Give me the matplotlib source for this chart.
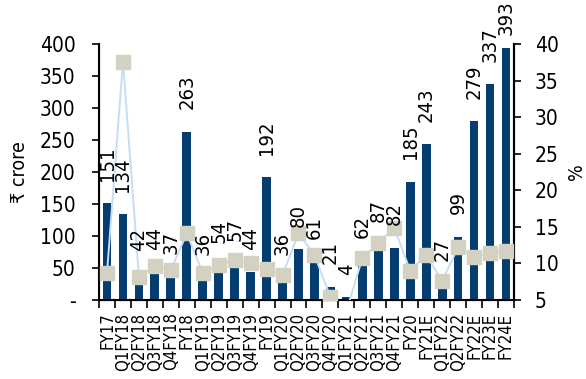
import matplotlib
matplotlib.use("Agg")
import matplotlib.pyplot as plt
from matplotlib import font_manager
import numpy as np

# narrow face wanted; DejaVu Sans Condensed is the closest one installed
fonts = font_manager.fontManager.ttflist
if any(f.name == "DejaVu Sans" and str(f.stretch) == "condensed" for f in fonts):
    plt.rcParams["font.family"] = ["DejaVu Sans"]
    plt.rcParams["font.stretch"] = "condensed"
else:
    plt.rcParams["font.family"] = ["Roboto", "DejaVu Sans"]

categories = [
    "FY17", "Q1FY18", "Q2FY18", "Q3FY18", "Q4FY18", "FY18",
    "Q1FY19", "Q2FY19", "Q3FY19", "Q4FY19", "FY19",
    "Q1FY20", "Q2FY20", "Q3FY20", "Q4FY20",
    "Q1FY21", "Q2FY21", "Q3FY21", "Q4FY21", "FY20", "FY21E",
    "Q1FY22", "Q2FY22", "FY22E", "FY23E", "FY24E",
]
crore = [151, 134, 42, 44, 37, 263, 36, 54, 57, 44, 192, 36, 80, 61, 21,
         4, 62, 87, 82, 185, 243, 27, 99, 279, 337, 393]
pct = [8.7, 37.6, 8.2, 9.6, 9.1, 14.1, 8.7, 9.8, 10.5, 10.1, 9.2, 8.4, 14.1,
       11.2, 5.4, 3.5, 10.7, 12.8, 14.9, 9.0, 11.2, 7.6, 12.2, 10.9, 11.4, 11.7]

left_ticks = list(range(0, 401, 50))
left_labels = ["-"] + [str(v) for v in left_ticks[1:]]
right_ticks = list(range(5, 41, 5))

BAR = "#063d70"
MARK = "#d3d1c1"
LINE = "#c6def5"

fig = plt.figure(figsize=(5.86, 3.79), dpi=100)
ax = fig.add_axes([0.169, 0.2084, 0.708, 0.6755])
x = np.arange(len(categories))
ax.bar(x, crore, width=0.55, color=BAR, zorder=2)
ax.set_xlim(-0.5, len(categories) - 0.5)
ax.set_ylim(0, 400)
ax.set_yticks(left_ticks)
ax.set_yticklabels(left_labels, fontsize=15)
ax.set_ylabel("₹ crore", fontsize=14, labelpad=8)

# boundary ticks without labels, centred labels without ticks
ax.set_xticks(np.arange(-0.5, len(categories), 1.0))
ax.set_xticklabels([])
ax.set_xticks(x, minor=True)
ax.set_xticklabels(categories, minor=True, rotation=90, fontsize=12)
ax.tick_params(axis="x", which="major", length=6, width=1.2, direction="out")
ax.tick_params(axis="x", which="minor", length=0, pad=9)
ax.tick_params(axis="y", length=5, width=1.2, pad=12)
ax.spines["top"].set_visible(False)
for s in ("left", "bottom", "right"):
    ax.spines[s].set_linewidth(1.5)

ax2 = ax.twinx()
ax2.plot(x, pct, color=LINE, lw=1.4, marker="s", ms=10, mfc=MARK, mec=MARK, zorder=3)
ax2.set_ylim(5, 40)
ax2.set_yticks(right_ticks)
ax2.set_yticklabels([str(v) for v in right_ticks], fontsize=15)
ax2.set_ylabel("%", fontsize=14, labelpad=6)
ax2.tick_params(axis="y", length=5, width=1.2, pad=10)
ax2.spines["top"].set_visible(False)
ax2.spines["right"].set_linewidth(1.5)

for xi, v in zip(x, crore):
    off = 16 if v < 380 else 10
    ax2.annotate(str(v), xy=(xi, v), xycoords=ax.transData, xytext=(0, off),
                 textcoords="offset points", rotation=90, ha="center", va="bottom",
                 fontsize=14.5, zorder=5)

fig.savefig("out.png", dpi=100)
